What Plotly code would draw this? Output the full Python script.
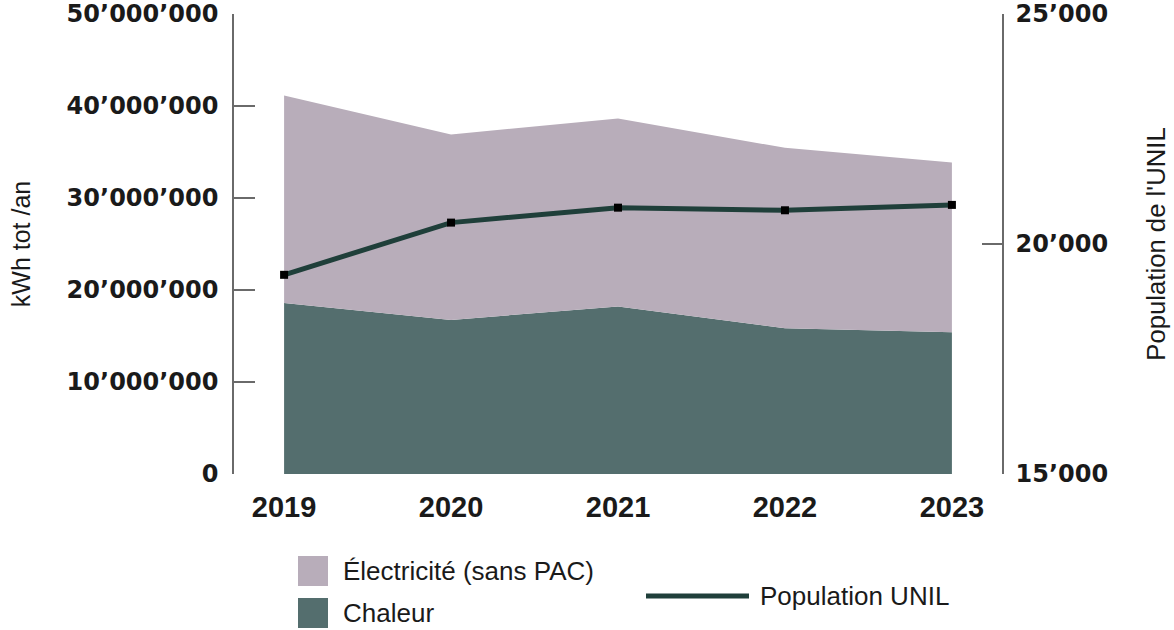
import plotly.graph_objects as go

years = [2019, 2020, 2021, 2022, 2023]
year_labels = ["2019", "2020", "2021", "2022", "2023"]
chaleur = [18.6e6, 16.75e6, 18.2e6, 15.85e6, 15.4e6]
electricite = [22.55e6, 20.15e6, 20.45e6, 19.6e6, 18.45e6]
population = [19330, 20465, 20790, 20733, 20850]

y1_ticks = [0, 10e6, 20e6, 30e6, 40e6, 50e6]
y1_labels = ["0", "10’000’000", "20’000’000", "30’000’000", "40’000’000", "50’000’000"]
y2_ticks = [15000, 20000, 25000]
y2_labels = ["15’000", "20’000", "25’000"]

name_chaleur = "Chaleur"
name_elec = "Électricité (sans PAC)"
name_pop = "Population UNIL"

col_chaleur = "#546e6e"
col_elec = "#b8adba"
col_pop = "#1f3f3a"
txt = "#1a1a1a"
axcol = "#6a6a6a"

W, H = 1174, 630
L, R, T, B = 234, 172, 14, 156
pw, ph = W - L - R, H - T - B


def px(x):
    return (x - L) / pw


def py(y):
    return (H - B - y) / ph


fig = go.Figure()
fig.add_trace(go.Scatter(x=years, y=chaleur, name=name_chaleur, stackgroup="one",
                         mode="none", fillcolor=col_chaleur, showlegend=False))
fig.add_trace(go.Scatter(x=years, y=electricite, name=name_elec, stackgroup="one",
                         mode="none", fillcolor=col_elec, showlegend=False))
fig.add_trace(go.Scatter(x=years, y=population, name=name_pop, yaxis="y2",
                         mode="lines+markers",
                         line=dict(color=col_pop, width=5),
                         marker=dict(symbol="square", size=8, color="#000000"),
                         showlegend=False))

bold_ticks = dict(family="DejaVu Sans", size=24, color=txt, weight="bold")

fig.update_layout(
    width=W, height=H,
    margin=dict(l=L, r=R, t=T, b=B, autoexpand=False),
    paper_bgcolor="white", plot_bgcolor="white",
    font=dict(family="Liberation Sans", color=txt),
    xaxis=dict(range=[2018.7, 2023.3], tickvals=years, ticktext=year_labels,
               showline=False, showgrid=False, zeroline=False, ticks="",
               automargin=False,
               tickfont=dict(family="Liberation Sans", size=29, color=txt, weight="bold"),
               ticklabelstandoff=13),
    yaxis=dict(range=[0, 50e6], tickvals=y1_ticks, ticktext=y1_labels,
               showline=True, linecolor=axcol, linewidth=1.5,
               ticks="inside", ticklen=21, tickwidth=1.5, tickcolor=axcol,
               showgrid=False, zeroline=False, tickfont=bold_ticks,
               ticklabelstandoff=9, automargin=False, ticklabeloverflow="allow",
               title=dict(text="kWh tot /an", font=dict(family="Liberation Sans", size=25, color=txt),
                          standoff=29)),
    yaxis2=dict(range=[15000, 25000], tickvals=y2_ticks, ticktext=y2_labels,
                overlaying="y", side="right",
                showline=True, linecolor=axcol, linewidth=1.5,
                ticks="inside", ticklen=20, tickwidth=1.5, tickcolor=axcol,
                showgrid=False, zeroline=False, tickfont=bold_ticks,
                ticklabelstandoff=7, automargin=False, ticklabeloverflow="allow",
                title=dict(text="Population de l'UNIL", font=dict(family="Liberation Sans", size=25.7, color=txt),
                           standoff=40)),
)

# custom legend
shapes = [
    dict(type="rect", xref="paper", yref="paper", x0=px(298), x1=px(328), y0=py(586), y1=py(556),
         fillcolor=col_elec, line=dict(width=0)),
    dict(type="rect", xref="paper", yref="paper", x0=px(298), x1=px(328), y0=py(628), y1=py(598),
         fillcolor=col_chaleur, line=dict(width=0)),
    dict(type="line", xref="paper", yref="paper", x0=px(646), x1=px(749), y0=py(596), y1=py(596),
         line=dict(color=col_pop, width=5)),
]
fig.update_layout(shapes=shapes)
leg_font = dict(family="Liberation Sans", size=26, color=txt)
for text, x, y in [(name_elec, 341, 571), (name_chaleur, 341, 613), (name_pop, 758, 596)]:
    fig.add_annotation(xref="paper", yref="paper", x=px(x), y=py(y), text=text,
                       showarrow=False, xanchor="left", yanchor="middle", font=leg_font)

fig.write_html("out.html", config={"displayModeBar": False},
               post_script="document.body.style.margin='0px';")
